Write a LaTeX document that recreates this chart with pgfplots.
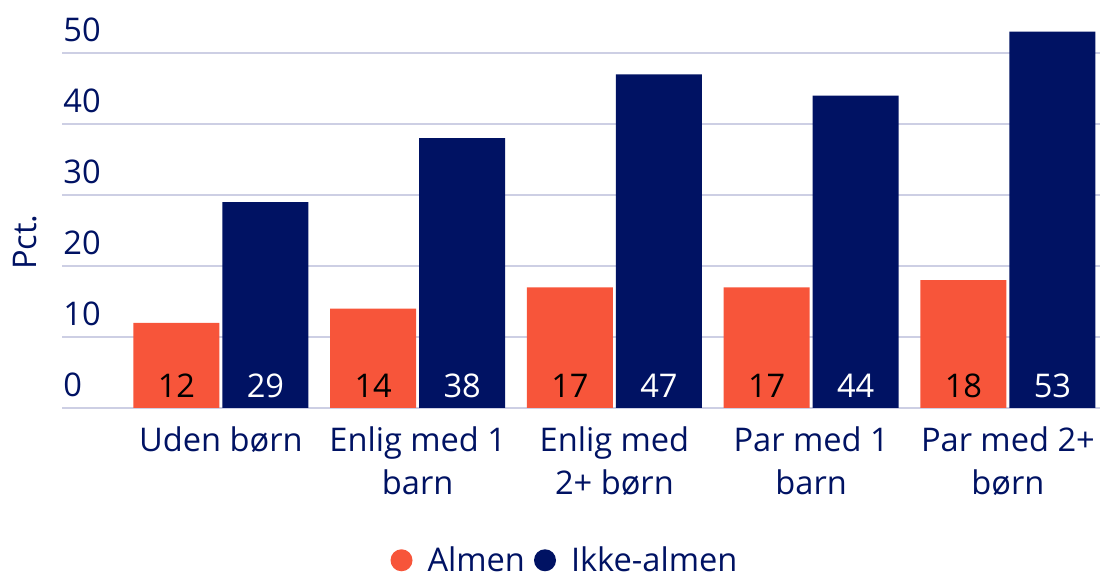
\documentclass[border=0pt]{standalone}
\usepackage{pgfplots}
\pgfplotsset{compat=1.18}
\usepackage{fontspec}
\setmainfont{Open Sans}
\definecolor{orangeA}{RGB}{247,85,58}
\definecolor{navyA}{RGB}{0,18,99}
\definecolor{gridc}{RGB}{205,207,228}
\newcommand{\lbl}{\fontsize{16.3}{21.5}\selectfont}
\begin{document}
\begin{tikzpicture}
\useasboundingbox (0,0) rectangle (552pt,288pt);
\begin{axis}[
  at={(31pt,84pt)}, anchor=south west,
  scale only axis, width=519pt, height=195.25pt,
  xmin=-0.808, xmax=4.468, ymin=0, ymax=55,
  axis line style={draw=none},
  major tick length=0pt,
  ytick={0,10,...,50},
  ymajorgrids, grid style={gridc, line width=0.8pt},
  xtick={0,...,4},
  xticklabels={Uden børn, {Enlig med 1\\barn}, {Enlig med\\2+ børn}, {Par med 1\\barn}, {Par med 2+\\børn}},
  xticklabel style={align=center, font=\lbl, text=navyA, inner sep=0pt, yshift=-9pt},
  yticklabel style={anchor=south west, inner sep=0pt, xshift=0.5pt, yshift=5.5pt, font=\lbl, text=navyA},
  /pgf/number format/assume math mode=true,
  ylabel={Pct.},
  ylabel style={at={(axis description cs:0,0.425)}, anchor=center, yshift=18.5pt, font=\lbl, text=navyA},
  legend style={at={(0.4836,-0.39)}, anchor=center, draw=none, fill=none, legend columns=-1, font=\lbl, text=navyA,
    nodes={inner sep=0pt},
    /tikz/every odd column/.append style={column sep=7.5pt},
    /tikz/every even column/.append style={column sep=4.5pt}},
  legend image code/.code={\fill[#1] (5.5pt,0pt) circle (5.5pt);},
  bar width=43pt,
  visualization depends on={y \as \rawy},
  nodes near coords,
  every node near coord/.append style={anchor=south, inner sep=0pt, shift={(axis direction cs:0,-\rawy)}, yshift=5pt, font=\lbl},
]
\addplot[ybar, bar shift=-22.25pt, fill=orangeA, draw=none, every node near coord/.append style={text=black, xshift=-22.25pt}]
  coordinates {(0,12) (1,14) (2,17) (3,17) (4,18)};
\addlegendentry{Almen}
\addplot[ybar, bar shift=22.25pt, fill=navyA, draw=none, every node near coord/.append style={text=white, xshift=22.25pt}]
  coordinates {(0,29) (1,38) (2,47) (3,44) (4,53)};
\addlegendentry{Ikke-almen}
\end{axis}
\end{tikzpicture}
\end{document}
